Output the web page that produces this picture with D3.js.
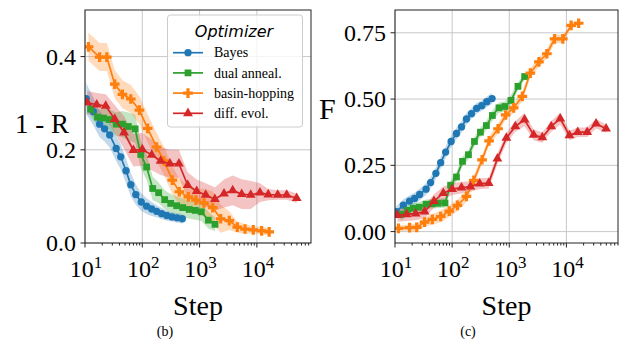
<!DOCTYPE html>
<html>
<head>
<meta charset="utf-8">
<script src="https://cdn.jsdelivr.net/npm/d3@7"></script>
<style>
  body { margin: 0; background: #fff; }
  svg text { font-family: 'Liberation Serif', 'Times New Roman', serif; fill: #000; }
</style>
</head>
<body>
<svg id="chart" width="628" height="347"></svg>
<script>
// ---- data ----
const bayesSteps = [10.5, 14, 18, 22, 27, 35, 42, 52, 63, 77, 96, 119, 146, 178, 218, 268, 330, 405, 500];
const bayesR = [0.31, 0.282, 0.255, 0.245, 0.232, 0.203, 0.185, 0.155, 0.125, 0.104, 0.088, 0.079, 0.073, 0.068, 0.063, 0.059, 0.056, 0.054, 0.052];
const bayesRErr = [0.033, 0.03, 0.028, 0.027, 0.027, 0.027, 0.027, 0.026, 0.025, 0.022, 0.019, 0.017, 0.015, 0.013, 0.012, 0.011, 0.01, 0.01, 0.01];
const bayesF = [0.075, 0.1, 0.115, 0.125, 0.14, 0.16, 0.185, 0.22, 0.26, 0.3, 0.34, 0.37, 0.395, 0.425, 0.445, 0.465, 0.475, 0.49, 0.502];
const bayesFErr = [0.02, 0.022, 0.022, 0.022, 0.022, 0.022, 0.022, 0.022, 0.022, 0.022, 0.022, 0.022, 0.022, 0.022, 0.02, 0.02, 0.02, 0.02, 0.02];

const dualSteps = [12.5, 16.5, 21, 26.5, 35, 45, 57, 75, 94, 119, 152, 193, 246, 313, 398, 507, 661, 841, 1072, 1419, 1858];
const dualR = [0.287, 0.27, 0.268, 0.265, 0.255, 0.255, 0.25, 0.245, 0.19, 0.163, 0.117, 0.108, 0.093, 0.085, 0.08, 0.076, 0.072, 0.07, 0.067, 0.049, 0.04];
const dualRErr = [0.015, 0.018, 0.02, 0.022, 0.025, 0.028, 0.03, 0.03, 0.03, 0.028, 0.025, 0.022, 0.02, 0.02, 0.02, 0.02, 0.02, 0.02, 0.02, 0.018, 0.015];
const dualF = [0.065, 0.08, 0.088, 0.092, 0.103, 0.105, 0.107, 0.108, 0.175, 0.206, 0.265, 0.29, 0.34, 0.375, 0.4, 0.438, 0.467, 0.472, 0.495, 0.548, 0.585];
const dualFErr = [0.025, 0.022, 0.02, 0.02, 0.018, 0.018, 0.018, 0.018, 0.018, 0.018, 0.018, 0.018, 0.018, 0.018, 0.018, 0.02, 0.02, 0.02, 0.02, 0.015, 0.012];

const basinSteps = [11.5, 18, 24, 33, 45, 63, 89, 124, 178, 239, 334, 443, 636, 865, 1194, 1693, 2336, 3300, 4550, 6200, 8650, 12100, 16400];
const basinR = [0.421, 0.399, 0.399, 0.341, 0.319, 0.309, 0.285, 0.246, 0.206, 0.176, 0.135, 0.11, 0.099, 0.092, 0.086, 0.076, 0.052, 0.048, 0.034, 0.03, 0.028, 0.026, 0.024];
const basinRErr = [0.03, 0.03, 0.03, 0.03, 0.03, 0.03, 0.03, 0.03, 0.03, 0.03, 0.03, 0.028, 0.025, 0.025, 0.03, 0.035, 0.03, 0.02, 0.012, 0.01, 0.008, 0.008, 0.008];
const basinF = [0.012, 0.015, 0.016, 0.036, 0.046, 0.057, 0.077, 0.099, 0.133, 0.193, 0.271, 0.342, 0.388, 0.44, 0.467, 0.51, 0.598, 0.64, 0.671, 0.727, 0.727, 0.778, 0.786];
const basinFErr = [0.012, 0.012, 0.015, 0.018, 0.02, 0.022, 0.022, 0.022, 0.02, 0.018, 0.018, 0.018, 0.018, 0.018, 0.018, 0.018, 0.018, 0.018, 0.018, 0.018, 0.015, 0.012, 0.01];

const diffSteps = [11, 16, 23, 33, 48, 70, 100, 146, 209, 304, 436, 620, 890, 1277, 1850, 2670, 3785, 5430, 7800, 11300, 15800, 23100, 33100, 49500];
const diffR = [0.301, 0.297, 0.294, 0.266, 0.237, 0.199, 0.201, 0.189, 0.176, 0.17, 0.17, 0.124, 0.111, 0.103, 0.094, 0.106, 0.113, 0.105, 0.103, 0.108, 0.104, 0.103, 0.103, 0.096];
const diffRErr = [0.025, 0.025, 0.025, 0.03, 0.035, 0.035, 0.035, 0.033, 0.03, 0.03, 0.03, 0.028, 0.025, 0.025, 0.025, 0.03, 0.032, 0.032, 0.03, 0.02, 0.012, 0.01, 0.01, 0.01];
const diffF = [0.062, 0.065, 0.068, 0.075, 0.115, 0.145, 0.16, 0.166, 0.17, 0.181, 0.183, 0.275, 0.353, 0.397, 0.422, 0.365, 0.355, 0.397, 0.426, 0.363, 0.375, 0.375, 0.407, 0.388];
const diffFErr = [0.025, 0.025, 0.025, 0.025, 0.025, 0.025, 0.022, 0.022, 0.02, 0.02, 0.02, 0.02, 0.02, 0.02, 0.025, 0.02, 0.02, 0.02, 0.022, 0.018, 0.018, 0.018, 0.018, 0.015];

const xMajor = [10, 100, 1000, 10000];
const yTicksR = [0, 0.2, 0.4];
const yTicksF = [0, 0.25, 0.5, 0.75];
const legendTitle = 'Optimizer';

const series = [
  { name: 'Bayes', color: '#1f77b4', symbol: d3.symbolCircle, size: 42, steps: bayesSteps, R: bayesR, RErr: bayesRErr, F: bayesF, FErr: bayesFErr },
  { name: 'dual anneal.', color: '#2ca02c', symbol: d3.symbolSquare, size: 46, steps: dualSteps, R: dualR, RErr: dualRErr, F: dualF, FErr: dualFErr },
  { name: 'basin-hopping', color: '#ff7f0e', symbol: d3.symbolCross, size: 52, steps: basinSteps, R: basinR, RErr: basinRErr, F: basinF, FErr: basinFErr },
  { name: 'diff. evol.', color: '#d62728', symbol: d3.symbolTriangle, size: 42, steps: diffSteps, R: diffR, RErr: diffRErr, F: diffF, FErr: diffFErr },
];

const panels = [
  { key: 'R', left: 85, right: 311, top: 10, bottom: 243, xMax: 88000, yDom: [0, 0.5], yTicks: yTicksR, fmt: d3.format('.1f'),
    yLabel: '1 - R', yLabelX: 42, yLabelY: 133, yLabelSize: 27, yLabelAnchor: 'middle', caption: '(b)', capX: 165, legend: true },
  { key: 'F', left: 395, right: 618, top: 10, bottom: 243, xMax: 80000, yDom: [-0.043, 0.836], yTicks: yTicksF, fmt: d3.format('.2f'),
    yLabel: 'F', yLabelX: 319, yLabelY: 119, yLabelSize: 30, yLabelAnchor: 'start', caption: '(c)', capX: 468, legend: false },
];

const svg = d3.select('#chart');

panels.forEach((p, pi) => {
  const x = d3.scaleLog().domain([10, p.xMax]).range([p.left, p.right]);
  const y = d3.scaleLinear().domain(p.yDom).range([p.bottom, p.top]);
  const g = svg.append('g');

  const clipId = 'clip-' + pi;
  svg.append('clipPath').attr('id', clipId)
    .append('rect')
    .attr('x', p.left).attr('y', p.top)
    .attr('width', p.right - p.left).attr('height', p.bottom - p.top);

  // grid
  g.selectAll('.gx').data(xMajor).enter().append('line')
    .attr('x1', d => x(d)).attr('x2', d => x(d))
    .attr('y1', p.top).attr('y2', p.bottom)
    .attr('stroke', '#c8c8c8').attr('stroke-width', 1);
  g.selectAll('.gy').data(p.yTicks).enter().append('line')
    .attr('x1', p.left).attr('x2', p.right)
    .attr('y1', d => y(d)).attr('y2', d => y(d))
    .attr('stroke', '#c8c8c8').attr('stroke-width', 1);

  const plot = g.append('g').attr('clip-path', `url(#${clipId})`);

  const rows = series.map(s => s.steps.map((st, i) => ({ s: st, v: s[p.key][i], e: s[p.key + 'Err'][i] })));

  const area = d3.area()
    .x(d => x(d.s))
    .y0(d => y(d.v - d.e))
    .y1(d => y(d.v + d.e));
  const line = d3.line().x(d => x(d.s)).y(d => y(d.v));

  series.forEach((s, si) => {
    plot.append('path')
      .attr('d', area(rows[si]))
      .attr('fill', s.color)
      .attr('fill-opacity', 0.28);
  });

  series.forEach((s, si) => {
    plot.append('path')
      .attr('d', line(rows[si]))
      .attr('fill', 'none')
      .attr('stroke', s.color)
      .attr('stroke-width', 1.7);
    plot.selectAll('.m' + si)
      .data(rows[si])
      .enter()
      .append('path')
      .attr('transform', d => `translate(${x(d.s)},${y(d.v)})`)
      .attr('d', d3.symbol().type(s.symbol).size(s.size))
      .attr('fill', s.color);
  });

  // spines
  g.append('rect')
    .attr('x', p.left).attr('y', p.top)
    .attr('width', p.right - p.left).attr('height', p.bottom - p.top)
    .attr('fill', 'none').attr('stroke', '#222').attr('stroke-width', 1);

  // x ticks
  const minor = x.ticks().filter(t => xMajor.indexOf(t) < 0);
  g.selectAll('.xmin').data(minor).enter().append('line')
    .attr('x1', d => x(d)).attr('x2', d => x(d))
    .attr('y1', p.bottom).attr('y2', p.bottom + 2.5)
    .attr('stroke', '#222');
  g.selectAll('.xmaj').data(xMajor).enter().append('line')
    .attr('x1', d => x(d)).attr('x2', d => x(d))
    .attr('y1', p.bottom).attr('y2', p.bottom + 4.5)
    .attr('stroke', '#222');
  const xl = g.selectAll('.xl').data(xMajor).enter().append('text')
    .attr('x', d => x(d) + 1)
    .attr('y', p.bottom + 34)
    .attr('text-anchor', 'middle')
    .style('font-size', '24px');
  xl.append('tspan').text('10');
  xl.append('tspan')
    .attr('dy', -9)
    .style('font-size', '17px')
    .text(d => Math.round(Math.log10(d)));

  // y ticks
  g.selectAll('.ytk').data(p.yTicks).enter().append('line')
    .attr('x1', p.left - 4.5).attr('x2', p.left)
    .attr('y1', d => y(d)).attr('y2', d => y(d))
    .attr('stroke', '#222');
  g.selectAll('.yl').data(p.yTicks).enter().append('text')
    .attr('x', p.left - 9)
    .attr('y', d => y(d))
    .attr('dy', '0.34em')
    .attr('text-anchor', 'end')
    .style('font-size', '24px')
    .text(d => p.fmt(d));

  // axis labels
  g.append('text')
    .attr('x', (p.left + p.right) / 2)
    .attr('y', 315)
    .attr('text-anchor', 'middle')
    .style('font-size', '28px')
    .text('Step');
  g.append('text')
    .attr('x', p.yLabelX)
    .attr('y', p.yLabelY)
    .attr('text-anchor', p.yLabelAnchor)
    .style('font-size', p.yLabelSize + 'px')
    .text(p.yLabel);
  g.append('text')
    .attr('x', p.capX)
    .attr('y', 336)
    .attr('text-anchor', 'middle')
    .style('font-size', '14px')
    .text(p.caption);

  if (p.legend) {
    const lg = g.append('g');
    lg.append('rect')
      .attr('x', 167.5).attr('y', 15)
      .attr('width', 135).attr('height', 112)
      .attr('rx', 3)
      .attr('fill', '#fff').attr('fill-opacity', 0.8)
      .attr('stroke', '#cccccc');
    lg.append('text')
      .attr('x', 234).attr('y', 36.5)
      .attr('text-anchor', 'middle')
      .style('font-family', "'DejaVu Sans', sans-serif")
      .style('font-style', 'italic')
      .style('font-size', '16px')
      .text(legendTitle);
    const item = lg.selectAll('.item').data(series).enter().append('g')
      .attr('transform', (d, i) => `translate(0,${52.7 + i * 20.2})`);
    item.append('line')
      .attr('x1', 173).attr('x2', 203)
      .attr('stroke', d => d.color).attr('stroke-width', 1.7);
    item.append('path')
      .attr('transform', 'translate(188,0)')
      .attr('d', d => d3.symbol().type(d.symbol).size(d.size)())
      .attr('fill', d => d.color);
    item.append('text')
      .attr('x', 214).attr('dy', '0.33em')
      .style('font-size', '14px')
      .text(d => d.name);
  }
});
</script>
</body>
</html>
